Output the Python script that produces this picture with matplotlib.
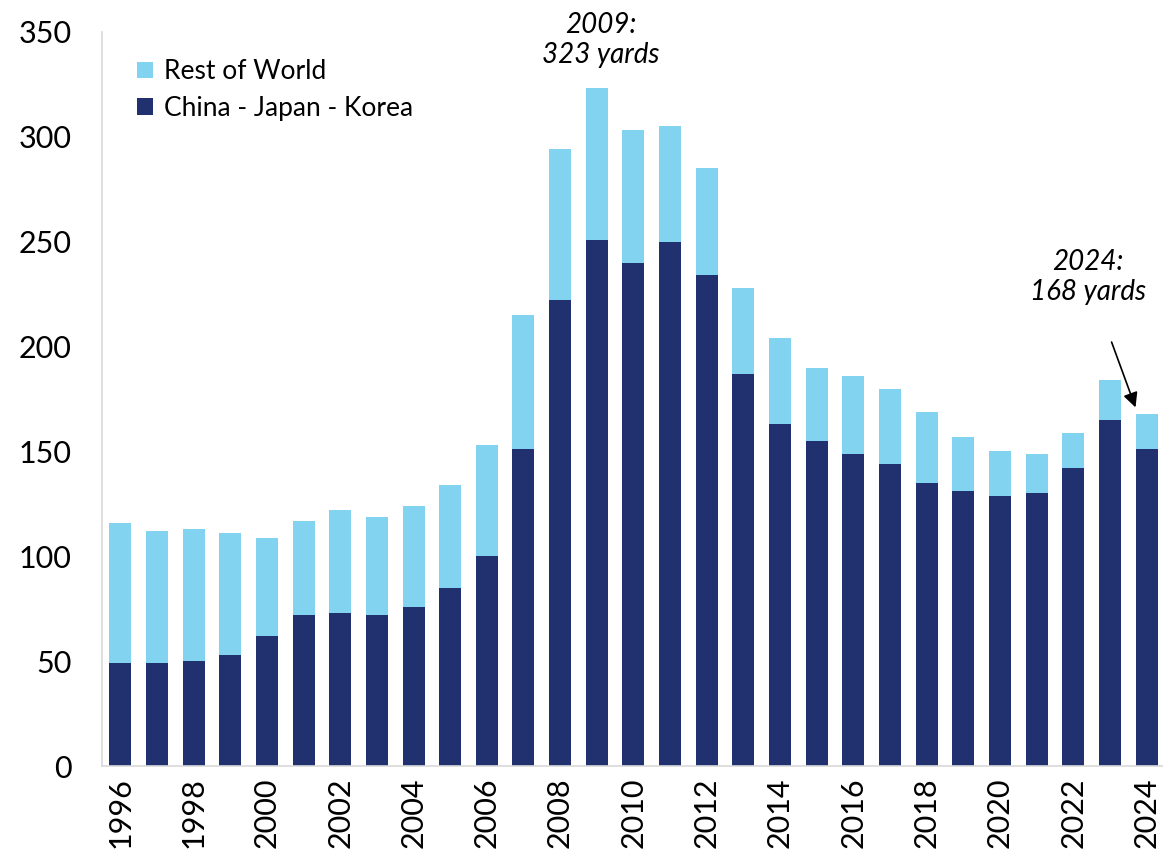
import matplotlib.pyplot as plt
import numpy as np

# datos
anios = list(range(1996, 2025))
total = [116, 112, 113, 111, 109, 117, 122, 119, 124, 134, 153, 215, 294, 323,
         303, 305, 285, 228, 204, 190, 186, 180, 169, 157, 150, 149, 159, 184, 168]
cjk = [49, 49, 50, 53, 62, 72, 73, 72, 76, 85, 100, 151, 222, 251,
       240, 250, 234, 187, 163, 155, 149, 144, 135, 131, 129, 130, 142, 165, 151]
resto = [t - c for t, c in zip(total, cjk)]
etiquetas = [str(a) if a % 2 == 0 else "" for a in anios]

AZUL_OSCURO = "#21306f"
AZUL_CLARO = "#82d3f0"

plt.rcParams['font.family'] = ['Lato', 'DejaVu Sans']

fig = plt.figure(figsize=(11.63, 8.59), dpi=100)
ax = fig.add_axes([0.0877, 0.108, 0.9123, 0.855])

x = np.arange(len(anios))
ax.bar(x, cjk, width=0.6, color=AZUL_OSCURO, label="China - Japan - Korea")
ax.bar(x, resto, width=0.6, bottom=cjk, color=AZUL_CLARO, label="Rest of World")

ax.set_xlim(-0.5, 28.45)
ax.set_ylim(0, 350)
ax.set_yticks(range(0, 351, 50))
ax.set_xticks(x)
ax.set_xticklabels(etiquetas, rotation=90)
ax.tick_params(axis='both', length=0, labelsize=22, colors='black')
ax.tick_params(axis='x', pad=8)
ax.tick_params(axis='y', pad=22)

for lado in ['top', 'right']:
    ax.spines[lado].set_visible(False)
for lado in ['left', 'bottom']:
    ax.spines[lado].set_color('#d9d9d9')
    ax.spines[lado].set_linewidth(1.2)

# leyenda con el orden de la imagen
h, l = ax.get_legend_handles_labels()
ax.legend(h[::-1], l[::-1], loc='upper left', bbox_to_anchor=(0.011, 0.995),
          frameon=False, fontsize=19, handlelength=0.6, handleheight=0.6,
          handletextpad=0.4, labelspacing=0.45)

# anotaciones
ax.text(13.1, 346, "2009:\n323 yards", ha='center', va='center', fontsize=20,
        style='italic', linespacing=1.2, clip_on=False)
ax.annotate("2024:\n168 yards", xy=(27.7, 171), xytext=(26.4, 233),
            ha='center', va='center', fontsize=20, style='italic', linespacing=1.2,
            arrowprops=dict(arrowstyle='-|>', color='black', lw=1.2,
                            mutation_scale=22, shrinkA=26, shrinkB=0))

fig.savefig("out.png", dpi=100)
